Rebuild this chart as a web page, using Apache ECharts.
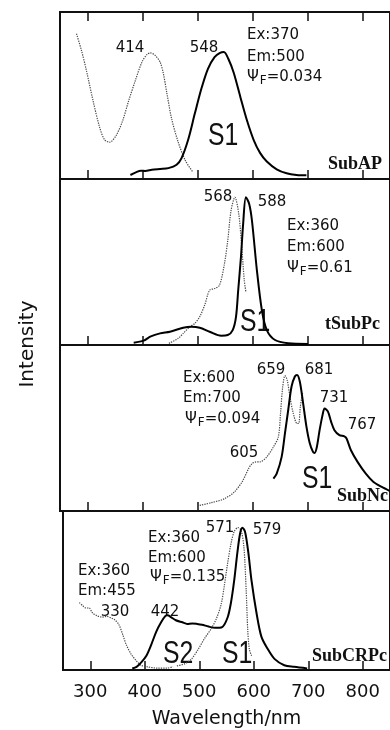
<!DOCTYPE html>
<html>
<head>
<meta charset="utf-8">
<script src="https://cdn.jsdelivr.net/npm/echarts@6/dist/echarts.min.js"></script>
<style>
  html, body { margin: 0; padding: 0; background: #fff; }
  #chart { width: 390px; height: 730px; }
</style>
</head>
<body>
<div id="chart"></div>
<script>
// Wavelength axis
const xTicks = [300, 400, 500, 600, 700, 800];

// SubAP: excitation (dotted) and emission (solid)
const apExWl = [280, 289, 298, 310, 322, 331, 340, 352, 364, 375, 387, 399, 408, 414, 423, 432, 438, 444, 453, 465, 478, 492];
const apExI  = [0.87, 0.77, 0.65, 0.47, 0.31, 0.235, 0.22, 0.26, 0.35, 0.47, 0.59, 0.70, 0.745, 0.755, 0.74, 0.70, 0.63, 0.52, 0.36, 0.22, 0.11, 0.04];
const apEmWl = [378, 388, 397, 405, 417, 432, 447, 462, 471, 483, 495, 507, 519, 531, 541, 548, 556, 566, 578, 590, 602, 614, 626, 644, 662, 680, 698];
const apEmI  = [0.024, 0.04, 0.05, 0.048, 0.055, 0.06, 0.065, 0.085, 0.125, 0.235, 0.39, 0.54, 0.66, 0.73, 0.755, 0.76, 0.72, 0.635, 0.49, 0.35, 0.235, 0.155, 0.105, 0.058, 0.034, 0.024, 0.022];

// tSubPc
const pcExWl = [448, 465, 474, 486, 495, 504, 513, 522, 531, 540, 549, 555, 561, 568, 575, 580, 585, 588];
const pcExI  = [0.01, 0.04, 0.07, 0.11, 0.13, 0.17, 0.24, 0.33, 0.34, 0.36, 0.49, 0.63, 0.81, 0.89, 0.79, 0.61, 0.39, 0.32];
const pcEmWl = [384, 402, 414, 432, 450, 474, 489, 504, 522, 543, 555, 564, 570, 574, 579, 583, 588, 594, 599, 608, 617, 626, 641, 665, 701];
const pcEmI  = [0.014, 0.026, 0.05, 0.07, 0.08, 0.104, 0.11, 0.104, 0.08, 0.056, 0.06, 0.09, 0.17, 0.33, 0.53, 0.73, 0.89, 0.85, 0.75, 0.45, 0.21, 0.09, 0.03, 0.01, 0.006];

// SubNc
const ncExWl = [504, 525, 549, 567, 581, 593, 599, 605, 614, 626, 638, 647, 651, 655, 659, 663, 668, 674, 681, 684, 687, 691];
const ncExI  = [0.034, 0.05, 0.074, 0.115, 0.175, 0.256, 0.285, 0.295, 0.296, 0.326, 0.386, 0.447, 0.59, 0.75, 0.815, 0.79, 0.69, 0.59, 0.527, 0.527, 0.63, 0.71];
const ncEmWl = [638, 644, 653, 659, 665, 671, 677, 681, 686, 692, 698, 704, 710, 713, 717, 722, 728, 731, 737, 743, 749, 758, 767, 771, 779, 791, 806, 820, 835, 850];
const ncEmI  = [0.195, 0.225, 0.326, 0.467, 0.61, 0.75, 0.81, 0.82, 0.78, 0.65, 0.51, 0.41, 0.356, 0.35, 0.386, 0.487, 0.588, 0.618, 0.60, 0.537, 0.487, 0.457, 0.45, 0.437, 0.366, 0.296, 0.225, 0.175, 0.145, 0.12];

// SubCRPc: two excitation spectra (Em 455 / Em 600) and one emission
const crExAWl = [280, 286, 292, 298, 304, 313, 322, 330, 338, 345, 352, 360, 366, 375, 384, 393, 405, 423, 440, 452];
const crExAI  = [0.424, 0.405, 0.39, 0.39, 0.36, 0.34, 0.333, 0.337, 0.328, 0.315, 0.289, 0.219, 0.159, 0.10, 0.06, 0.03, 0.02, 0.012, 0.012, 0.02];
const crExBWl = [459, 474, 486, 498, 510, 522, 531, 540, 546, 552, 558, 564, 571, 577, 582, 586, 589, 592, 596];
const crExBI  = [0.026, 0.04, 0.07, 0.13, 0.2, 0.26, 0.32, 0.41, 0.53, 0.67, 0.79, 0.87, 0.896, 0.876, 0.77, 0.51, 0.25, 0.13, 0.09];
const crEmWl = [377, 385, 394, 403, 412, 421, 430, 438, 442, 448, 457, 469, 478, 487, 496, 505, 517, 529, 542, 552, 558, 564, 570, 575, 579, 584, 590, 596, 605, 614, 626, 638, 656, 674, 698];
const crEmI  = [0.01, 0.02, 0.05, 0.09, 0.16, 0.24, 0.30, 0.34, 0.345, 0.333, 0.313, 0.30, 0.29, 0.293, 0.29, 0.285, 0.273, 0.265, 0.27, 0.33, 0.42, 0.56, 0.74, 0.86, 0.895, 0.87, 0.74, 0.56, 0.36, 0.21, 0.13, 0.07, 0.03, 0.02, 0.01];

const zip = (xs, ys) => xs.map((x, i) => [x, ys[i]]);

const SANS = '"DejaVu Sans"';
const SERIF = '"Liberation Serif"';

const panels = [
  { top: 12,  height: 167, left: 60 },
  { top: 179, height: 166, left: 60 },
  { top: 345, height: 166, left: 60 },
  { top: 511, height: 167, left: 63 }
];

const grids = panels.map(p => ({
  left: p.left, top: p.top, width: 335, height: p.height,
  show: true, borderColor: '#111', borderWidth: 2, backgroundColor: 'transparent',
  containLabel: false
}));

const xAxes = [];
panels.forEach((p, i) => {
  xAxes.push({
    type: 'value', gridIndex: i, min: 250, max: 850, position: 'bottom',
    axisLine: { show: false },
    splitLine: { show: false },
    axisTick: { show: true, inside: true, length: 9, customValues: xTicks, lineStyle: { color: '#111', width: 1.5 } },
    axisLabel: i === 3 ? {
      show: true, customValues: xTicks, margin: 13,
      fontFamily: SANS, fontSize: 18, color: '#111'
    } : { show: false },
    name: i === 3 ? 'Wavelength/nm' : '',
    nameLocation: 'middle', nameGap: 40,
    nameTextStyle: { fontFamily: SANS, fontSize: 19, color: '#111' }
  });
});
// ticks along the top edge of the first panel
xAxes.push({
  type: 'value', gridIndex: 0, min: 250, max: 850, position: 'top',
  axisLine: { show: false }, splitLine: { show: false },
  axisTick: { show: true, inside: true, length: 9, customValues: xTicks, lineStyle: { color: '#111', width: 1.5 } },
  axisLabel: { show: false }
});

const yAxes = panels.map((p, i) => ({
  type: 'value', gridIndex: i, min: 0, max: 1,
  axisLine: { show: false }, axisTick: { show: false },
  axisLabel: { show: false }, splitLine: { show: false }
}));

function emission(idx, xs, ys) {
  return {
    type: 'line', xAxisIndex: idx, yAxisIndex: idx, data: zip(xs, ys),
    showSymbol: false, smooth: 0.3, silent: true,
    lineStyle: { color: '#000', width: 2 }
  };
}
function excitation(idx, xs, ys) {
  return {
    type: 'line', xAxisIndex: idx, yAxisIndex: idx, data: zip(xs, ys),
    showSymbol: false, smooth: 0.3, silent: true,
    lineStyle: { color: '#4a4a4a', width: 1.2, type: [1.3, 1.1] }
  };
}

const series = [
  excitation(0, apExWl, apExI), emission(0, apEmWl, apEmI),
  excitation(1, pcExWl, pcExI), emission(1, pcEmWl, pcEmI),
  excitation(2, ncExWl, ncExI), emission(2, ncEmWl, ncEmI),
  excitation(3, crExAWl, crExAI), excitation(3, crExBWl, crExBI), emission(3, crEmWl, crEmI)
];

// text helpers
const mctx = document.createElement('canvas').getContext('2d');
function textWidth(t, size, fam) { mctx.font = size + 'px ' + fam; return mctx.measureText(t).width; }

function txt(t, x, y, opts) {
  opts = opts || {};
  const size = opts.size || 15;
  const fam = opts.family || SANS;
  return {
    type: 'text', x: x, y: y, silent: true,
    scaleX: opts.scaleX || 1,
    style: {
      text: t, fill: '#111',
      font: (opts.weight || 'normal') + ' ' + size + 'px ' + fam,
      align: opts.align || 'left', verticalAlign: 'middle'
    }
  };
}
function quantumYield(x, y, value) {
  const w1 = textWidth('\u03A8', 15, SANS);
  const w2 = textWidth('F', 12, SANS);
  return [
    txt('\u03A8', x, y, { size: 15 }),
    txt('F', x + w1 + 1, y + 4, { size: 12 }),
    txt('=' + value, x + w1 + 1 + w2, y, { size: 15 })
  ];
}
function bigLabel(t, x, y) {
  return txt(t, x, y, { size: 31, family: '"Liberation Sans"', scaleX: 0.8 });
}
function nameLabel(t, x, y) {
  return txt(t, x, y, { size: 18, family: SERIF, weight: 'bold' });
}

const graphics = [].concat(
  // SubAP
  [txt('414', 130, 48, { align: 'center' }), txt('548', 204, 48, { align: 'center' }),
   txt('Ex:370', 247, 35), txt('Em:500', 247, 57)],
  quantumYield(247, 77, '0.034'),
  [bigLabel('S1', 208, 136), nameLabel('SubAP', 328, 164)],
  // tSubPc
  [txt('568', 218, 197, { align: 'center' }), txt('588', 272, 202, { align: 'center' }),
   txt('Ex:360', 287, 226), txt('Em:600', 287, 247)],
  quantumYield(287, 268, '0.61'),
  [bigLabel('S1', 240, 322), nameLabel('tSubPc', 325, 324)],
  // SubNc
  [txt('659', 271, 370, { align: 'center' }), txt('681', 319, 370, { align: 'center' }),
   txt('731', 334, 398, { align: 'center' }), txt('767', 362, 425, { align: 'center' }),
   txt('605', 244, 453, { align: 'center' }),
   txt('Ex:600', 183, 378), txt('Em:700', 183, 398)],
  quantumYield(185, 419, '0.094'),
  [bigLabel('S1', 302, 479), nameLabel('SubNc', 337, 496)],
  // SubCRPc
  [txt('571', 220, 528, { align: 'center' }), txt('579', 267, 530, { align: 'center' }),
   txt('Ex:360', 148, 538), txt('Em:600', 148, 558)],
  quantumYield(150, 577, '0.135'),
  [txt('Ex:360', 78, 571), txt('Em:455', 78, 591),
   txt('330', 115, 612, { align: 'center' }), txt('442', 165, 612, { align: 'center' }),
   bigLabel('S2', 163, 654), bigLabel('S1', 222, 654), nameLabel('SubCRPc', 312, 656)],
  // y-axis title
  [{
    type: 'text', x: 28, y: 344, rotation: Math.PI / 2, silent: true,
    style: { text: 'Intensity', fill: '#111', font: '20px ' + SANS, align: 'center', verticalAlign: 'middle' }
  }]
);

const chart = echarts.init(document.getElementById('chart'), null, { renderer: 'canvas' });
chart.setOption({
  animation: false,
  backgroundColor: '#fff',
  grid: grids,
  xAxis: xAxes,
  yAxis: yAxes,
  series: series,
  graphic: graphics
});
</script>
</body>
</html>
